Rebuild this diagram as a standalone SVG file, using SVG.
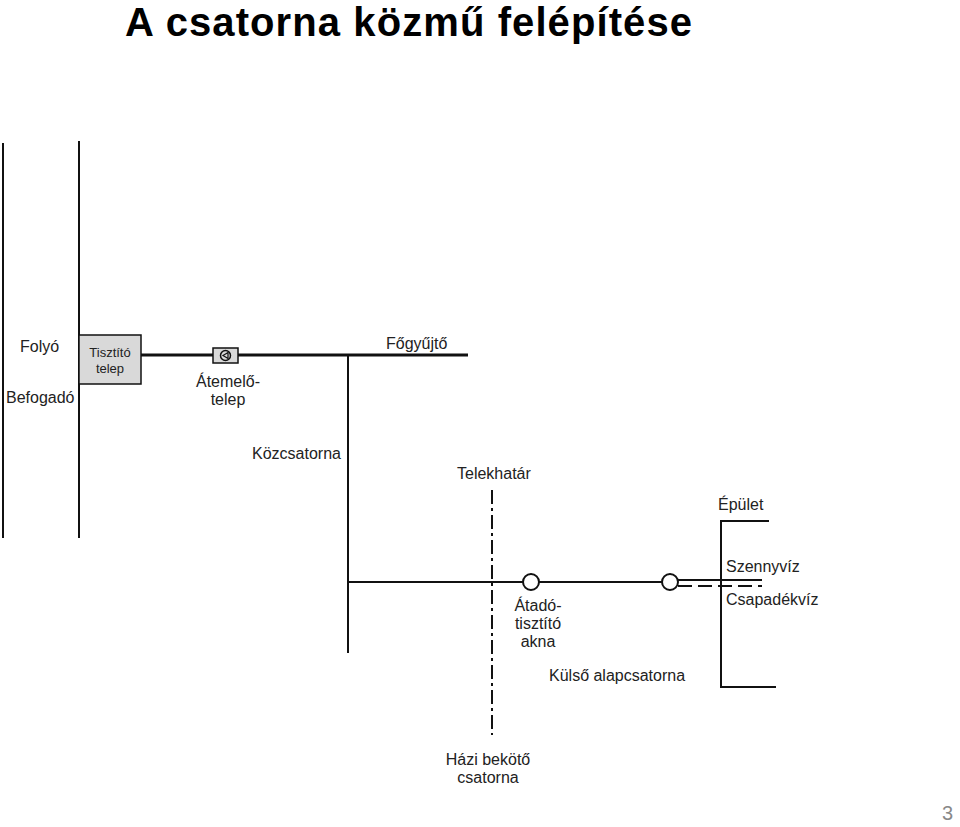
<svg xmlns="http://www.w3.org/2000/svg" width="960" height="827" viewBox="0 0 960 827">
<style>
text{font-family:"Liberation Sans",Arial,sans-serif;font-size:16px;fill:#222}
.l{stroke:#111;fill:none;stroke-width:2}
.t{stroke:#111;fill:none;stroke-width:3}
</style>
<rect width="960" height="827" fill="#fff"/>
<text x="125" y="36" style="font-family:'Liberation Sans',sans-serif;font-size:40px;font-weight:bold;fill:#000" textLength="567">A csatorna közmű felépítése</text>
<text x="942" y="820" style="font-size:20px;fill:#888">3</text>
<g id="connectors">
<line class="l" x1="3" y1="143" x2="3" y2="538"/>
<line class="l" x1="79" y1="141" x2="79" y2="538"/>
<line class="t" x1="141" y1="355" x2="468" y2="355"/>
<line class="l" x1="348" y1="355" x2="348" y2="653"/>
<line class="l" x1="348" y1="582" x2="523" y2="582"/>
<line class="l" x1="539" y1="582" x2="662" y2="582"/>
<line class="l" x1="678" y1="580" x2="762" y2="580"/>
<line class="l" x1="678" y1="586" x2="762" y2="586" stroke-dasharray="14,6"/>
<line class="l" x1="492" y1="490" x2="492" y2="735" stroke-dasharray="14,4,3,4"/>
<polyline class="l" points="769,521 721,521 721,687 776,687"/>
</g>
<g id="tisztito"><rect x="79" y="335" width="62" height="49" fill="#d9d9d9" stroke="#111" stroke-width="1.5"/>
<text x="110" y="357" text-anchor="middle" style="font-size:13px">Tisztító</text><text x="110" y="373" text-anchor="middle" style="font-size:13px">telep</text></g>
<g id="atemelo"><rect x="213" y="348" width="25" height="15" fill="#d9d9d9" stroke="#111" stroke-width="1.5"/>
<circle cx="225.5" cy="355.5" r="5" fill="none" stroke="#111" stroke-width="1.5"/><path d="M223 355.5L228 352.5V358.5Z" fill="none" stroke="#111" stroke-width="1.2"/>
<text x="228" y="387" text-anchor="middle">Átemelő-</text><text x="228" y="405" text-anchor="middle">telep</text></g>
<g id="akna1"><circle cx="531" cy="582" r="8" fill="#fff" stroke="#111" stroke-width="2"/>
<text x="538" y="611" text-anchor="middle">Átadó-</text><text x="538" y="629" text-anchor="middle">tisztító</text><text x="538" y="647" text-anchor="middle">akna</text></g>
<g id="akna2"><circle cx="670" cy="582" r="8" fill="#fff" stroke="#111" stroke-width="2"/></g>
<g id="labels">
<text x="20" y="352">Folyó</text>
<text x="6" y="403">Befogadó</text>
<text x="386" y="349">Főgyűjtő</text>
<text x="252" y="459">Közcsatorna</text>
<text x="457" y="479">Telekhatár</text>
<text x="718" y="510">Épület</text>
<text x="726" y="572">Szennyvíz</text>
<text x="726" y="605">Csapadékvíz</text>
<text x="549" y="681">Külső alapcsatorna</text>
<text x="488" y="765" text-anchor="middle">Házi bekötő</text>
<text x="488" y="783" text-anchor="middle">csatorna</text>
</g>
</svg>
